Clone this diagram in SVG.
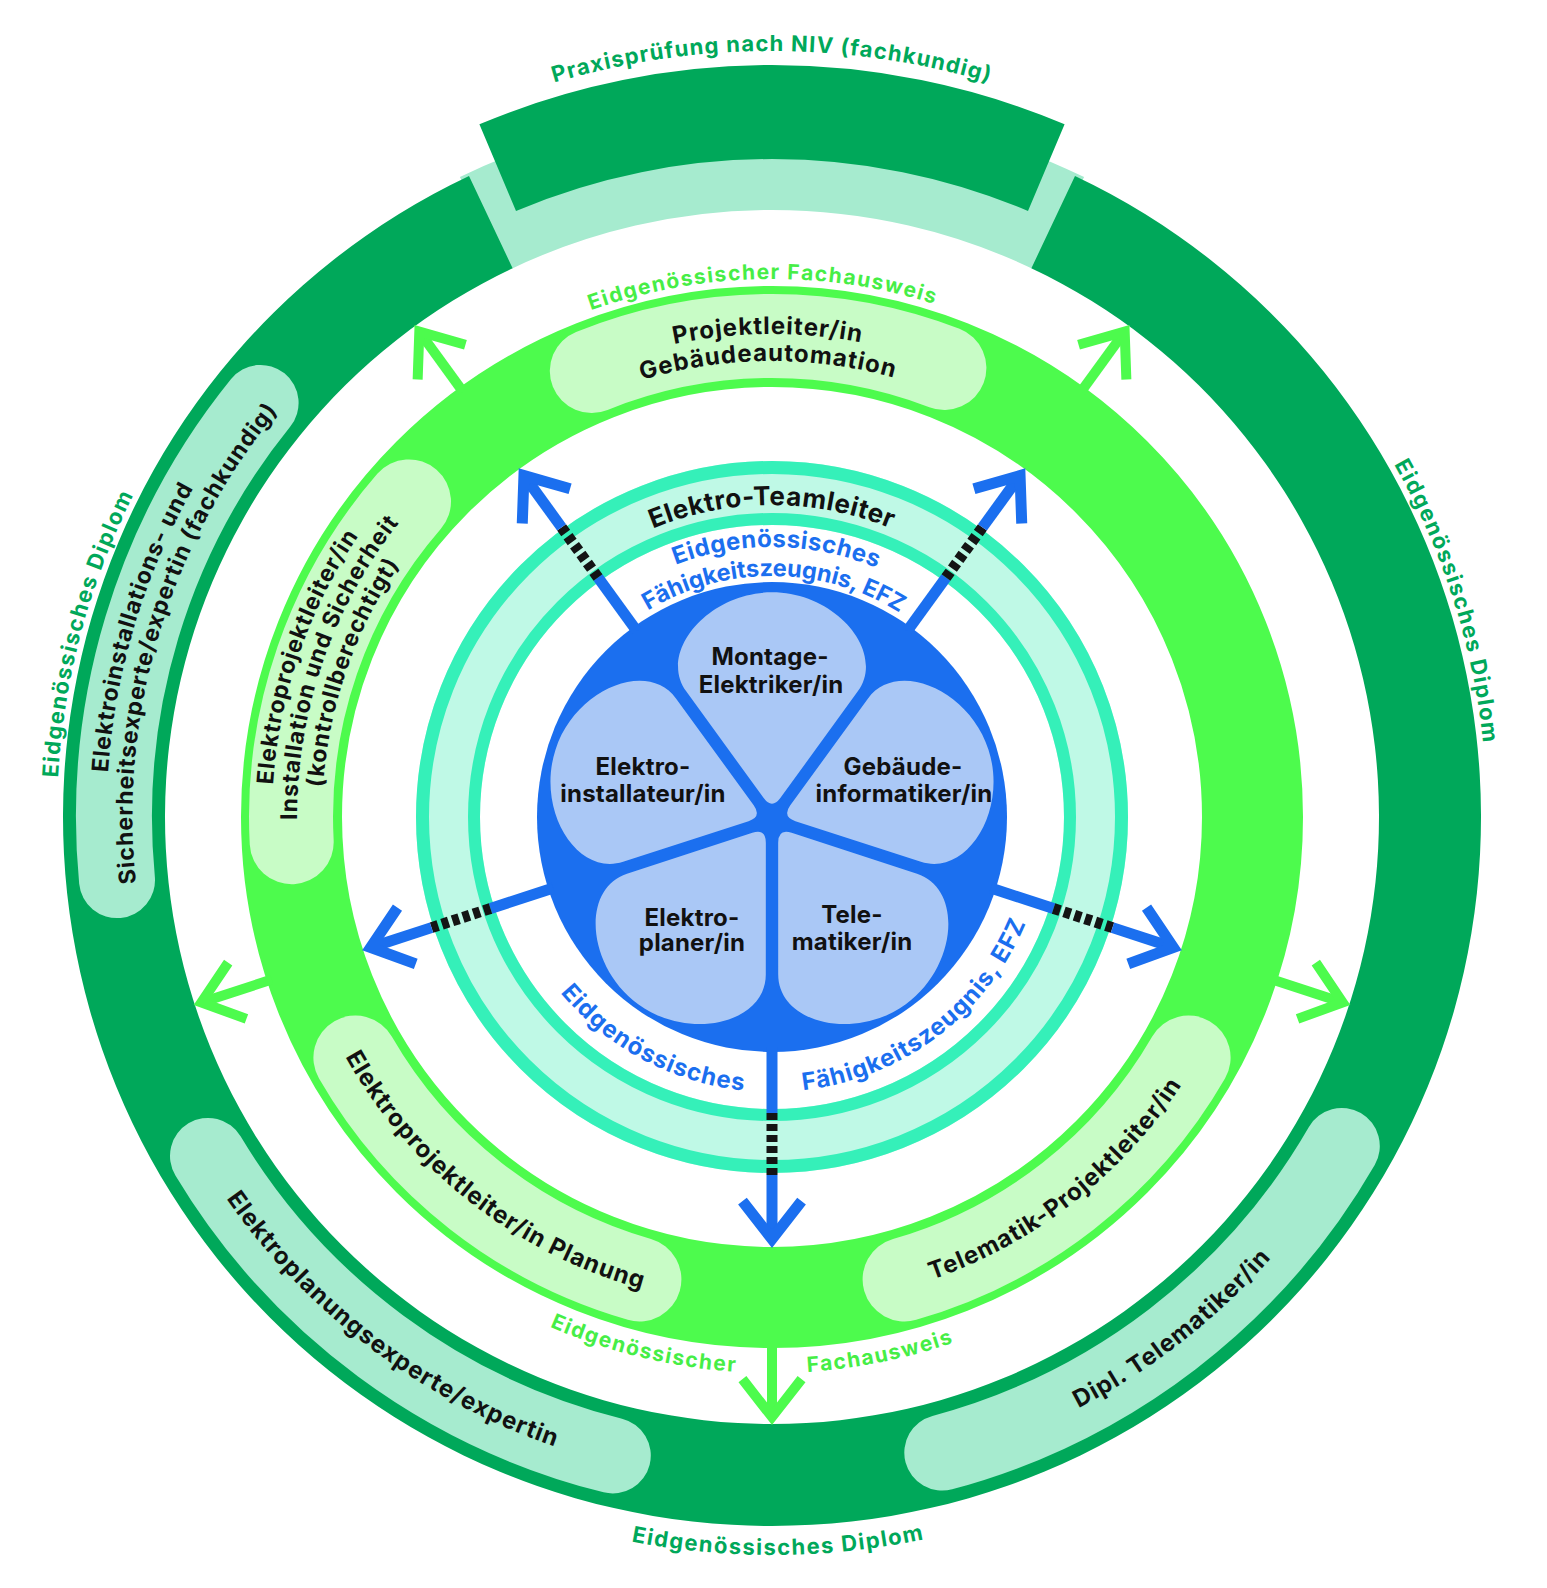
<svg xmlns="http://www.w3.org/2000/svg" width="1547" height="1588" viewBox="0 0 1547 1588">
<style>
.t{font-family:Inter,"Open Sans","Liberation Sans",sans-serif;font-weight:700}
.blk{fill:#111111}
.dg{fill:#00A85A}
.bg{fill:#46EE46}
.bl{fill:#1B6FEF}
.po{fill:none;stroke:#A6EBCF;stroke-width:76;stroke-linecap:round}
.pg{fill:none;stroke:#C8FCC6;stroke-width:84;stroke-linecap:round}
.ga{fill:none;stroke:#4DFB4D;stroke-width:10;stroke-linejoin:miter;stroke-miterlimit:10}
.ba{fill:none;stroke:#1B6FEF;stroke-width:11;stroke-linejoin:miter;stroke-miterlimit:10}
.dash{fill:none;stroke:#141414;stroke-width:11;stroke-dasharray:7 4}
.petal{fill:#AAC8F6}
</style>
<defs>
<path id="cw766" d="M17.64,683.98 A766,766 0 0 1 1526.36,683.98"/>
<path id="cw538" d="M242.17,723.58 A538,538 0 0 1 1301.83,723.58"/>
<path id="cw715" d="M67.86,692.84 A715,715 0 0 1 1476.14,692.84"/>
<path id="cw312" d="M464.74,762.82 A312,312 0 0 1 1079.26,762.82"/>
<path id="cw270" d="M506.10,770.11 A270,270 0 0 1 1037.90,770.11"/>
<path id="cw241" d="M534.66,775.15 A241,241 0 0 1 1009.34,775.15"/>
<path id="cw665" d="M116.61,701.44 A665.5,665.5 0 0 1 1427.39,701.44"/>
<path id="cw639" d="M142.21,705.95 A639.5,639.5 0 0 1 1401.79,705.95"/>
<path id="cw483" d="M296.34,733.13 A483,483 0 0 1 1247.66,733.13"/>
<path id="cw456" d="M322.93,737.82 A456,456 0 0 1 1221.07,737.82"/>
<path id="cw500" d="M279.59,730.17 A500,500 0 0 1 1264.41,730.17"/>
<path id="cw475" d="M304.22,734.52 A475,475 0 0 1 1239.78,734.52"/>
<path id="cw450" d="M328.84,738.86 A450,450 0 0 1 1215.16,738.86"/>
<path id="ccw738" d="M45.21,945.15 A738,738 0 0 0 1498.79,945.15"/>
<path id="ccw556" d="M224.45,913.55 A556,556 0 0 0 1319.55,913.55"/>
<path id="ccw275" d="M501.18,864.75 A275,275 0 0 0 1042.82,864.75"/>
<path id="ccw666" d="M116.12,932.65 A666,666 0 0 0 1427.88,932.65"/>
<path id="ccw489" d="M289.94,902.00 A489.5,489.5 0 0 0 1254.06,902.00"/>
<path id="petal" d="M-8.08,-21.3 Q0,-10.2 8.08,-21.3 L83.3,-124.9 C111,-163 62,-221 0,-221 C-62,-221 -111,-163 -83.3,-124.9 Z"/>
</defs>
<rect width="1547" height="1588" fill="#ffffff"/>

<g id="ring-diplom">
<path d="M459.9,177.1 A712,712 0 0 1 1084.1,177.1 L1038.1,271.4 A607,607 0 0 0 505.9,271.4 Z" fill="#A6EBCF"/>
<path d="M1075.0,176.0 A709,709 0 1 1 469.0,176.0 L512.6,268.2 A607,607 0 1 0 1031.4,268.2 Z" fill="#00A85A"/>
<text class="t dg" font-size="22" letter-spacing="1.5" text-anchor="middle" transform="rotate(285 772 817)"><textPath href="#cw715" startOffset="50%">Eidgenössisches Diplom</textPath></text>
<text class="t dg" font-size="22" letter-spacing="1.5" text-anchor="middle" transform="rotate(72.3 772 817)"><textPath href="#cw715" startOffset="50%">Eidgenössisches Diplom</textPath></text>
<text class="t dg" font-size="22" letter-spacing="1.5" text-anchor="middle" transform="rotate(-0.5 772 817)"><textPath href="#ccw738" startOffset="50%">Eidgenössisches Diplom</textPath></text>
</g>

<g id="node-praxispruefung">
<path d="M479.4,124.3 A752,752 0 0 1 1064.6,124.3 L1028.0,210.9 A658,658 0 0 0 516.0,210.9 Z" fill="#00A85A"/>
<text class="t dg" font-size="22" letter-spacing="1.2" text-anchor="middle"><textPath href="#cw766" startOffset="50%">Praxisprüfung nach NIV (fachkundig)</textPath></text>
</g>

<g id="node-elektroinstallationsexperte">
<path class="po" d="M117.0,880.1 A658,658 0 0 1 260.6,402.9"/>
<text class="t blk" font-size="23" letter-spacing="1" text-anchor="middle" transform="rotate(286.75 772 817)"><textPath href="#cw665" startOffset="50%">Elektroinstallations- und</textPath></text>
<text class="t blk" font-size="23" letter-spacing="1" text-anchor="middle" transform="rotate(286.75 772 817)"><textPath href="#cw639" startOffset="50%">Sicherheitsexperte/expertin (fachkundig)</textPath></text>
</g>

<g id="node-elektroplanungsexperte">
<path class="po" d="M612.8,1455.5 A658,658 0 0 1 208.0,1155.9"/>
<text class="t blk" font-size="24" letter-spacing="1" text-anchor="middle" transform="rotate(37 772 817)"><textPath href="#ccw666" startOffset="50%">Elektroplanungsexperte/expertin</textPath></text>
</g>

<g id="node-dipl-telematiker">
<path class="po" d="M1341.8,1146 A658,658 0 0 1 942.3,1452.6"/>
<text class="t blk" font-size="24" letter-spacing="1" text-anchor="middle" transform="rotate(-38 772 817)"><textPath href="#ccw666" startOffset="50%">Dipl. Telematiker/in</textPath></text>
</g>

<g id="ring-fachausweis">
<circle cx="772" cy="817" r="480.5" fill="none" stroke="#4DFB4D" stroke-width="101"/>
<text class="t bg" font-size="21" letter-spacing="1.5" text-anchor="middle" transform="rotate(-1 772 817)"><textPath href="#cw538" startOffset="50%">Eidgenössischer Fachausweis</textPath></text>
<text class="t bg" font-size="21" letter-spacing="1.5" text-anchor="middle" transform="rotate(13.6 772 817)"><textPath href="#ccw556" startOffset="50%">Eidgenössischer</textPath></text>
<text class="t bg" font-size="21" letter-spacing="1.5" text-anchor="middle" transform="rotate(-11.4 772 817)"><textPath href="#ccw556" startOffset="50%">Fachausweis</textPath></text>
</g>

<g id="node-projektleiter-gebaeudeautomation">
<path class="pg" d="M591.8,371.0 A481,481 0 0 1 944.4,368.0"/>
<text class="t blk" font-size="24" letter-spacing="1" text-anchor="middle" transform="rotate(-0.5 772 817)"><textPath href="#cw483" startOffset="50%">Projektleiter/in</textPath></text>
<text class="t blk" font-size="24" letter-spacing="1" text-anchor="middle" transform="rotate(-0.5 772 817)"><textPath href="#cw456" startOffset="50%">Gebäudeautomation</textPath></text>
</g>

<g id="node-elektroprojektleiter-installation">
<path class="pg" d="M291.7,842.2 A481,481 0 0 1 409.0,501.4"/>
<text class="t blk" font-size="23" letter-spacing="1" text-anchor="middle" transform="rotate(289 772 817)"><textPath href="#cw500" startOffset="50%">Elektroprojektleiter/in</textPath></text>
<text class="t blk" font-size="23" letter-spacing="1" text-anchor="middle" transform="rotate(289 772 817)"><textPath href="#cw475" startOffset="50%">Installation und Sicherheit</textPath></text>
<text class="t blk" font-size="23" letter-spacing="1" text-anchor="middle" transform="rotate(289 772 817)"><textPath href="#cw450" startOffset="50%">(kontrollberechtigt)</textPath></text>
</g>

<g id="node-elektroprojektleiter-planung">
<path class="pg" d="M639.4,1279.4 A481,481 0 0 1 355.4,1057.5"/>
<text class="t blk" font-size="24" letter-spacing="1" text-anchor="middle" transform="rotate(38 772 817)"><textPath href="#ccw489" startOffset="50%">Elektroprojektleiter/in Planung</textPath></text>
</g>

<g id="node-telematik-projektleiter">
<path class="pg" d="M1188.6,1057.5 A481,481 0 0 1 904.6,1279.4"/>
<text class="t blk" font-size="24" letter-spacing="1" text-anchor="middle" transform="rotate(-38 772 817)"><textPath href="#ccw489" startOffset="50%">Telematik-Projektleiter/in</textPath></text>
</g>

<g id="node-elektro-teamleiter">
<circle cx="772" cy="817" r="324" fill="none" stroke="#BFF9E6" stroke-width="64"/>
<circle cx="772" cy="817" r="349.5" fill="none" stroke="#35F0B9" stroke-width="13"/>
<circle cx="772" cy="817" r="298" fill="none" stroke="#35F0B9" stroke-width="12"/>
<text class="t blk" font-size="26" letter-spacing="0.6" text-anchor="middle"><textPath href="#cw312" startOffset="50%">Elektro-Teamleiter</textPath></text>
</g>

<g id="ring-efz">
<circle cx="772" cy="817" r="235" fill="#1B6FEF"/>
<text class="t bl" font-size="24" letter-spacing="0.5" text-anchor="middle" transform="rotate(1 772 817)"><textPath href="#cw270" startOffset="50%">Eidgenössisches</textPath></text>
<text class="t bl" font-size="23.5" text-anchor="middle" transform="rotate(0.5 772 817)"><textPath href="#cw241" startOffset="50%">Fähigkeitszeugnis, EFZ</textPath></text>
<text class="t bl" font-size="24" letter-spacing="1" text-anchor="middle" transform="rotate(28 772 817)"><textPath href="#ccw275" startOffset="50%">Eidgenössisches</textPath></text>
<text class="t bl" font-size="24" letter-spacing="1" text-anchor="middle" transform="rotate(-37 772 817)"><textPath href="#ccw275" startOffset="50%">Fähigkeitszeugnis, EFZ</textPath></text>
</g>

<g id="node-montage-elektriker">
<use href="#petal" class="petal" transform="translate(772 820) scale(1.03)"/>
<text class="t blk" font-size="24" letter-spacing="0.2" text-anchor="middle"><tspan x="770" y="665">Montage-</tspan><tspan x="771" y="693">Elektriker/in</tspan></text>
</g>
<g id="node-gebaeudeinformatiker">
<use href="#petal" class="petal" transform="translate(772 820) rotate(72) scale(1.03)"/>
<text class="t blk" font-size="24" letter-spacing="0.2" text-anchor="middle"><tspan x="903" y="775">Gebäude-</tspan><tspan x="904" y="802">informatiker/in</tspan></text>
</g>
<g id="node-telematiker">
<use href="#petal" class="petal" transform="translate(772 820) rotate(144) scale(1.03)"/>
<text class="t blk" font-size="24" letter-spacing="0.2" text-anchor="middle"><tspan x="852" y="923">Tele-</tspan><tspan x="852" y="950">matiker/in</tspan></text>
</g>
<g id="node-elektroplaner">
<use href="#petal" class="petal" transform="translate(772 820) rotate(216) scale(1.03)"/>
<text class="t blk" font-size="24" letter-spacing="0.2" text-anchor="middle"><tspan x="692" y="926">Elektro-</tspan><tspan x="692" y="951">planer/in</tspan></text>
</g>
<g id="node-elektroinstallateur">
<use href="#petal" class="petal" transform="translate(772 820) rotate(288) scale(1.03)"/>
<text class="t blk" font-size="24" letter-spacing="0.2" text-anchor="middle"><tspan x="643" y="775">Elektro-</tspan><tspan x="643" y="802">installateur/in</tspan></text>
</g>

<g id="connectors">
<g transform="rotate(-126 772 817)">
<line class="ba" x1="1002" y1="817" x2="1068" y2="817"/><line class="dash" x1="1068" y1="817" x2="1130" y2="817"/><line class="ba" x1="1130" y1="817" x2="1194" y2="817"/><polyline class="ba" points="1156.2,787.45 1194,817 1156.2,846.55"/>
<line class="ga" x1="1298" y1="817" x2="1372" y2="817"/><polyline class="ga" points="1334.2,787.45 1372,817 1334.2,846.55"/>
</g>
<g transform="rotate(-54 772 817)">
<line class="ba" x1="1002" y1="817" x2="1068" y2="817"/><line class="dash" x1="1068" y1="817" x2="1130" y2="817"/><line class="ba" x1="1130" y1="817" x2="1194" y2="817"/><polyline class="ba" points="1156.2,787.45 1194,817 1156.2,846.55"/>
<line class="ga" x1="1298" y1="817" x2="1372" y2="817"/><polyline class="ga" points="1334.2,787.45 1372,817 1334.2,846.55"/>
</g>
<g transform="rotate(18 772 817)">
<line class="ba" x1="1002" y1="817" x2="1068" y2="817"/><line class="dash" x1="1068" y1="817" x2="1130" y2="817"/><line class="ba" x1="1130" y1="817" x2="1194" y2="817"/><polyline class="ba" points="1156.2,787.45 1194,817 1156.2,846.55"/>
<line class="ga" x1="1298" y1="817" x2="1372" y2="817"/><polyline class="ga" points="1334.2,787.45 1372,817 1334.2,846.55"/>
</g>
<g transform="rotate(90 772 817)">
<line class="ba" x1="1002" y1="817" x2="1068" y2="817"/><line class="dash" x1="1068" y1="817" x2="1130" y2="817"/><line class="ba" x1="1130" y1="817" x2="1194" y2="817"/><polyline class="ba" points="1156.2,787.45 1194,817 1156.2,846.55"/>
<line class="ga" x1="1298" y1="817" x2="1372" y2="817"/><polyline class="ga" points="1334.2,787.45 1372,817 1334.2,846.55"/>
</g>
<g transform="rotate(162 772 817)">
<line class="ba" x1="1002" y1="817" x2="1068" y2="817"/><line class="dash" x1="1068" y1="817" x2="1130" y2="817"/><line class="ba" x1="1130" y1="817" x2="1194" y2="817"/><polyline class="ba" points="1156.2,787.45 1194,817 1156.2,846.55"/>
<line class="ga" x1="1298" y1="817" x2="1372" y2="817"/><polyline class="ga" points="1334.2,787.45 1372,817 1334.2,846.55"/>
</g>
</g>
</svg>
